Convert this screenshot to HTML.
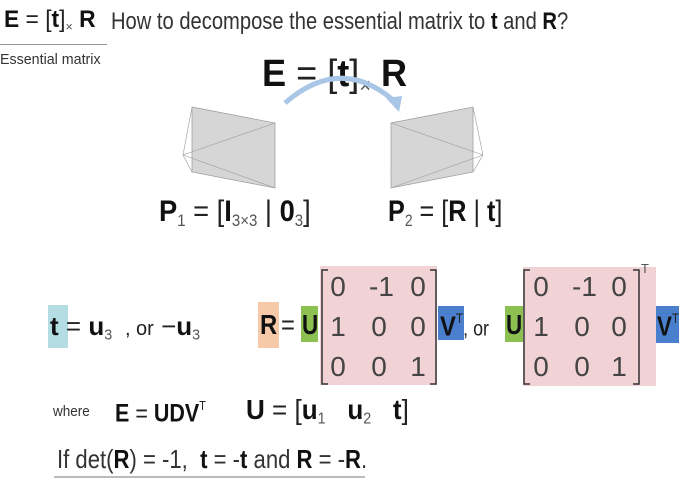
<!DOCTYPE html>
<html><head><meta charset="utf-8"><style>
body{margin:0;width:680px;height:491px;background:#fff;overflow:hidden;position:relative;font-family:"Liberation Sans Narrow","Liberation Sans",sans-serif;color:#222}
.a{position:absolute;white-space:nowrap;line-height:1;transform-origin:0 0}
b{font-weight:bold;color:#111}
sub{font-size:55%;vertical-align:-0.3em;color:#555}
sup{font-size:50%;vertical-align:0.9em}
.box{position:absolute}
.m{position:absolute;font-size:28px;color:#444;width:20px;text-align:center;line-height:1}
</style></head><body>
<div class="a" style="left:4px;top:8px;font-size:24px;transform:scaleX(0.95)"><b>E</b> = [<b>t</b>]<sub>×</sub> <b>R</b></div>
<div class="box" style="left:0;top:44px;width:107px;height:1px;background:#999"></div>
<div class="a" style="left:0;top:52px;font-size:15px;color:#333;transform:scaleX(0.95)">Essential matrix</div>
<div class="a" style="left:111px;top:10px;font-size:24px;color:#333;transform:scaleX(0.84)">How to decompose the essential matrix to <b>t</b> and <b>R</b>?</div>
<div class="a" style="left:262px;top:55px;font-size:38px;transform:scaleX(0.95)"><b>E</b> = [<b>t</b>]<sub>×</sub> <b>R</b></div>
<svg class="box" style="left:0;top:0" width="680" height="250">
<path d="M285 103 Q340 55 393 100" fill="none" stroke="#a9c6e6" stroke-width="5"/>
<polygon points="386,98 402,96 399,112" fill="#a9c6e6"/>
<polygon points="192,107 275,123 275,188 192,172" fill="#d6d6d6" stroke="#999" stroke-width="0.7"/>
<g stroke="#999" stroke-width="0.6" fill="none"><path d="M183,155 L192,107 M183,155 L192,172 M183,155 L275,123 M183,155 L275,188"/></g>
<polygon points="391,123 473,107 473,172 391,188" fill="#d6d6d6" stroke="#999" stroke-width="0.7"/>
<g stroke="#999" stroke-width="0.6" fill="none"><path d="M483,155 L473,107 M483,155 L473,172 M483,155 L391,123 M483,155 L391,188"/></g>
</svg>
<div class="a" style="left:159px;top:197px;font-size:30px;transform:scaleX(0.91)"><b>P</b><sub>1</sub> = [<b>I</b><sub>3×3</sub> | <b>0</b><sub>3</sub>]</div>
<div class="a" style="left:388px;top:197px;font-size:30px;transform:scaleX(0.84)"><b>P</b><sub>2</sub> = [<b>R</b> | <b>t</b>]</div>

<div class="box" style="left:48px;top:305px;width:20px;height:43px;background:#b4dde3"></div>
<div class="a" style="left:50px;top:313px;font-size:26px"><b>t</b> = <b>u</b><sub>3</sub> <span style="font-size:20px">&nbsp;, or</span> −<b>u</b><sub>3</sub></div>
<div class="box" style="left:258px;top:302px;width:21px;height:46px;background:#f6c9a8"></div>
<div class="box" style="left:301px;top:306px;width:17px;height:36px;background:#8cc152"></div>
<div class="box" style="left:320px;top:266px;width:117px;height:119px;background:#f1d3d6"></div>
<div class="box" style="left:438px;top:306px;width:26px;height:34px;background:#4a7fce"></div>
<div class="box" style="left:505px;top:306px;width:18px;height:36px;background:#8cc152"></div>
<div class="box" style="left:523px;top:267px;width:133px;height:119px;background:#f1d3d6"></div>
<div class="box" style="left:656px;top:306px;width:23px;height:37px;background:#4a7fce"></div>
<div class="a" style="left:260px;top:311px;font-size:28px;transform:scaleX(0.85)"><b>R</b></div>
<div class="a" style="left:281px;top:311px;font-size:28px;transform:scaleX(0.85)">=</div>
<div class="a" style="left:302px;top:311px;font-size:28px;transform:scaleX(0.8)"><b>U</b></div>
<div class="a" style="left:440px;top:311px;font-size:28px;transform:scaleX(0.85)"><b>V</b><sup>T</sup><span style="font-size:21px">, or</span></div>
<div class="a" style="left:506px;top:311px;font-size:28px;transform:scaleX(0.8)"><b>U</b></div>
<div class="a" style="left:657px;top:311px;font-size:28px;transform:scaleX(0.8)"><b>V</b><sup>T</sup></div>
<svg class="box" style="left:0;top:0" width="680" height="491" fill="none" stroke="#333" stroke-width="1.5">
<path d="M328 270 H322 V384 H328 M430 270 H436 V384 H430"/>
<path d="M530 270 H524 V384 H530 M633 270 H639 V384 H633"/>
</svg>
<div class="a" style="left:641px;top:262px;font-size:13px;color:#555">T</div>
<div id="mats"></div>
<div class="a" style="left:53px;top:404px;font-size:15px;color:#333;transform:scaleX(0.9)">where</div>
<div class="a" style="left:115px;top:400px;font-size:25px;transform:scaleX(0.86)"><b>E</b> = <b>UDV</b><sup>T</sup></div>
<div class="a" style="left:246px;top:396px;font-size:28px;transform:scaleX(0.93)"><b>U</b> = [<b>u</b><sub>1</sub> &nbsp; <b>u</b><sub>2</sub> &nbsp; <b>t</b>]</div>
<div class="a" style="left:57px;top:446px;font-size:26px;color:#333;transform:scaleX(0.85)">If det(<b>R</b>) = -1, &nbsp;<b>t</b> = -<b>t</b> and <b>R</b> = -<b>R</b>.</div>
<div class="box" style="left:54px;top:476px;width:311px;height:2px;background:#bbb"></div>
<script>
const vals=[["0","-1","0"],["1","0","0"],["0","0","1"]];
const cols1=[338,379,418],cols2=[541,582,619],rows=[287,327,367];
const host=document.getElementById('mats');
[cols1,cols2].forEach((cols,mi)=>{vals.forEach((r,ri)=>r.forEach((v,ci)=>{
const d=document.createElement('div');d.className='m';


d.style.left=(cols[ci]-10)+'px';d.style.top=(rows[ri]-14)+'px';d.textContent=v;host.appendChild(d);}));});
</script>
</body></html>
